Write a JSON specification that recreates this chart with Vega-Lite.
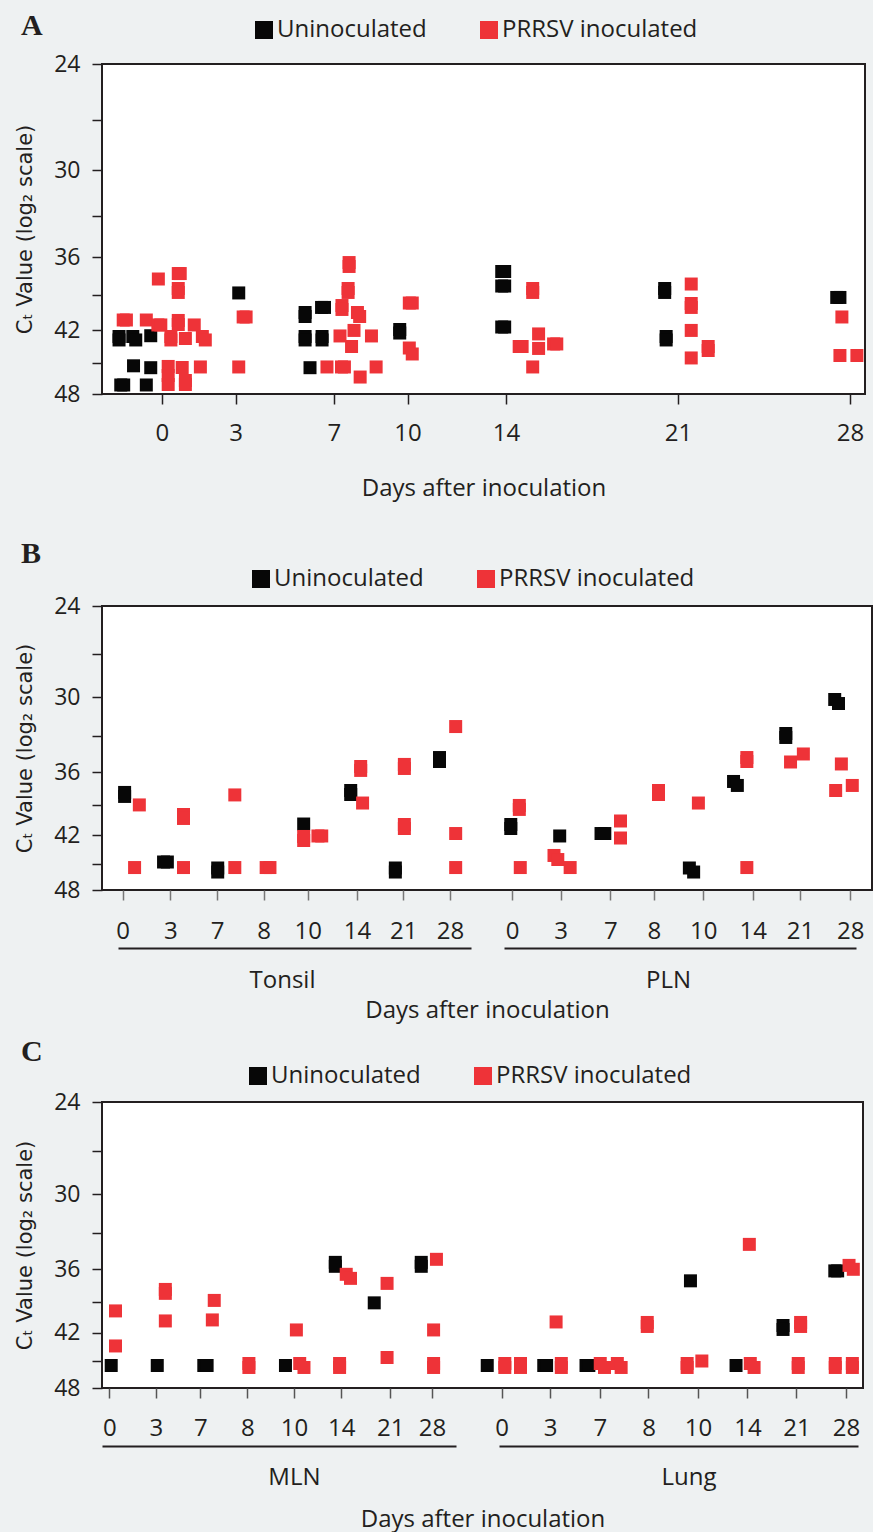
{
  "$schema": "https://vega.github.io/schema/vega-lite/v6.json",
  "background": "#eef1f2",
  "padding": {"left": 13, "top": 10, "right": 30, "bottom": 30},
  "datasets": {
    "A": [
      {"day":0,"group":"Uninoculated","x":-1.74,"ct":42.54},
      {"day":0,"group":"Uninoculated","x":-1.74,"ct":42.85},
      {"day":0,"group":"Uninoculated","x":-1.18,"ct":42.54},
      {"day":0,"group":"Uninoculated","x":-1.06,"ct":42.85},
      {"day":0,"group":"Uninoculated","x":-0.45,"ct":42.47},
      {"day":0,"group":"Uninoculated","x":-1.15,"ct":45.24},
      {"day":0,"group":"Uninoculated","x":-0.45,"ct":45.42},
      {"day":0,"group":"Uninoculated","x":-1.67,"ct":47.1},
      {"day":0,"group":"Uninoculated","x":-1.55,"ct":47.1},
      {"day":0,"group":"Uninoculated","x":-0.63,"ct":47.1},
      {"day":3,"group":"Uninoculated","x":3.13,"ct":38.82},
      {"day":7,"group":"Uninoculated","x":5.83,"ct":40.45},
      {"day":7,"group":"Uninoculated","x":5.83,"ct":40.79},
      {"day":7,"group":"Uninoculated","x":6.5,"ct":40.02},
      {"day":7,"group":"Uninoculated","x":6.62,"ct":40.02},
      {"day":7,"group":"Uninoculated","x":5.83,"ct":42.54},
      {"day":7,"group":"Uninoculated","x":5.83,"ct":42.85},
      {"day":7,"group":"Uninoculated","x":6.52,"ct":42.54},
      {"day":7,"group":"Uninoculated","x":6.52,"ct":42.85},
      {"day":7,"group":"Uninoculated","x":6.03,"ct":45.42},
      {"day":10,"group":"Uninoculated","x":9.68,"ct":41.92},
      {"day":10,"group":"Uninoculated","x":9.68,"ct":42.23},
      {"day":14,"group":"Uninoculated","x":13.83,"ct":37.11},
      {"day":14,"group":"Uninoculated","x":13.95,"ct":37.11},
      {"day":14,"group":"Uninoculated","x":13.83,"ct":38.26},
      {"day":14,"group":"Uninoculated","x":13.95,"ct":38.26},
      {"day":14,"group":"Uninoculated","x":13.83,"ct":41.7},
      {"day":14,"group":"Uninoculated","x":13.95,"ct":41.7},
      {"day":21,"group":"Uninoculated","x":20.46,"ct":38.46},
      {"day":21,"group":"Uninoculated","x":20.46,"ct":38.78},
      {"day":21,"group":"Uninoculated","x":20.52,"ct":42.54},
      {"day":21,"group":"Uninoculated","x":20.52,"ct":42.85},
      {"day":28,"group":"Uninoculated","x":27.46,"ct":39.19},
      {"day":28,"group":"Uninoculated","x":27.59,"ct":39.19},
      {"day":0,"group":"PRRSV inoculated","x":-0.14,"ct":37.7},
      {"day":0,"group":"PRRSV inoculated","x":0.67,"ct":37.27},
      {"day":0,"group":"PRRSV inoculated","x":0.75,"ct":37.27},
      {"day":0,"group":"PRRSV inoculated","x":0.67,"ct":38.46},
      {"day":0,"group":"PRRSV inoculated","x":0.67,"ct":38.78},
      {"day":0,"group":"PRRSV inoculated","x":-1.57,"ct":41.09},
      {"day":0,"group":"PRRSV inoculated","x":-1.44,"ct":41.09},
      {"day":0,"group":"PRRSV inoculated","x":-0.63,"ct":41.09},
      {"day":0,"group":"PRRSV inoculated","x":-0.16,"ct":41.52},
      {"day":0,"group":"PRRSV inoculated","x":-0.04,"ct":41.52},
      {"day":0,"group":"PRRSV inoculated","x":0.67,"ct":41.13},
      {"day":0,"group":"PRRSV inoculated","x":0.67,"ct":41.48},
      {"day":0,"group":"PRRSV inoculated","x":1.32,"ct":41.52},
      {"day":0,"group":"PRRSV inoculated","x":0.37,"ct":42.54},
      {"day":0,"group":"PRRSV inoculated","x":0.37,"ct":42.85},
      {"day":0,"group":"PRRSV inoculated","x":0.96,"ct":42.72},
      {"day":0,"group":"PRRSV inoculated","x":1.65,"ct":42.54},
      {"day":0,"group":"PRRSV inoculated","x":1.77,"ct":42.85},
      {"day":0,"group":"PRRSV inoculated","x":0.26,"ct":45.3},
      {"day":0,"group":"PRRSV inoculated","x":0.26,"ct":46.17},
      {"day":0,"group":"PRRSV inoculated","x":0.26,"ct":47.05},
      {"day":0,"group":"PRRSV inoculated","x":0.83,"ct":45.4},
      {"day":0,"group":"PRRSV inoculated","x":0.96,"ct":46.66},
      {"day":0,"group":"PRRSV inoculated","x":0.96,"ct":47.05},
      {"day":0,"group":"PRRSV inoculated","x":1.57,"ct":45.35},
      {"day":3,"group":"PRRSV inoculated","x":3.13,"ct":45.35},
      {"day":3,"group":"PRRSV inoculated","x":3.31,"ct":40.83},
      {"day":3,"group":"PRRSV inoculated","x":3.43,"ct":40.83},
      {"day":7,"group":"PRRSV inoculated","x":7.62,"ct":36.42},
      {"day":7,"group":"PRRSV inoculated","x":7.62,"ct":36.72},
      {"day":7,"group":"PRRSV inoculated","x":7.58,"ct":38.46},
      {"day":7,"group":"PRRSV inoculated","x":7.58,"ct":38.78},
      {"day":7,"group":"PRRSV inoculated","x":7.33,"ct":39.86},
      {"day":7,"group":"PRRSV inoculated","x":7.33,"ct":40.19},
      {"day":7,"group":"PRRSV inoculated","x":7.96,"ct":40.45},
      {"day":7,"group":"PRRSV inoculated","x":8.05,"ct":40.79},
      {"day":7,"group":"PRRSV inoculated","x":7.82,"ct":42.0},
      {"day":7,"group":"PRRSV inoculated","x":7.25,"ct":42.49},
      {"day":7,"group":"PRRSV inoculated","x":8.53,"ct":42.49},
      {"day":7,"group":"PRRSV inoculated","x":7.72,"ct":43.44},
      {"day":7,"group":"PRRSV inoculated","x":6.72,"ct":45.35},
      {"day":7,"group":"PRRSV inoculated","x":7.31,"ct":45.35},
      {"day":7,"group":"PRRSV inoculated","x":7.43,"ct":45.35},
      {"day":7,"group":"PRRSV inoculated","x":8.72,"ct":45.35},
      {"day":7,"group":"PRRSV inoculated","x":8.07,"ct":46.32},
      {"day":10,"group":"PRRSV inoculated","x":10.07,"ct":39.65},
      {"day":10,"group":"PRRSV inoculated","x":10.19,"ct":39.65},
      {"day":10,"group":"PRRSV inoculated","x":10.07,"ct":43.58},
      {"day":10,"group":"PRRSV inoculated","x":10.19,"ct":44.13},
      {"day":14,"group":"PRRSV inoculated","x":15.09,"ct":38.46},
      {"day":14,"group":"PRRSV inoculated","x":15.09,"ct":38.78},
      {"day":14,"group":"PRRSV inoculated","x":15.33,"ct":42.31},
      {"day":14,"group":"PRRSV inoculated","x":14.54,"ct":43.44},
      {"day":14,"group":"PRRSV inoculated","x":14.66,"ct":43.44},
      {"day":14,"group":"PRRSV inoculated","x":15.33,"ct":43.62},
      {"day":14,"group":"PRRSV inoculated","x":15.94,"ct":43.21},
      {"day":14,"group":"PRRSV inoculated","x":16.07,"ct":43.21},
      {"day":14,"group":"PRRSV inoculated","x":15.09,"ct":45.35},
      {"day":21,"group":"PRRSV inoculated","x":21.54,"ct":38.1},
      {"day":21,"group":"PRRSV inoculated","x":21.54,"ct":39.69},
      {"day":21,"group":"PRRSV inoculated","x":21.54,"ct":40.02},
      {"day":21,"group":"PRRSV inoculated","x":21.54,"ct":42.0},
      {"day":21,"group":"PRRSV inoculated","x":22.23,"ct":43.44},
      {"day":21,"group":"PRRSV inoculated","x":22.23,"ct":43.81},
      {"day":21,"group":"PRRSV inoculated","x":21.54,"ct":44.5},
      {"day":28,"group":"PRRSV inoculated","x":27.67,"ct":40.83},
      {"day":28,"group":"PRRSV inoculated","x":27.59,"ct":44.27},
      {"day":28,"group":"PRRSV inoculated","x":28.28,"ct":44.27}
    ],
    "B": [
      {"tissue":"Tonsil","day":0,"group":"Uninoculated","x":0.04,"ct":37.83},
      {"tissue":"Tonsil","day":0,"group":"Uninoculated","x":0.04,"ct":38.2},
      {"tissue":"Tonsil","day":3,"group":"Uninoculated","x":0.86,"ct":44.83},
      {"tissue":"Tonsil","day":3,"group":"Uninoculated","x":0.94,"ct":44.83},
      {"tissue":"Tonsil","day":7,"group":"Uninoculated","x":2.0,"ct":45.49},
      {"tissue":"Tonsil","day":7,"group":"Uninoculated","x":2.0,"ct":45.94},
      {"tissue":"Tonsil","day":10,"group":"Uninoculated","x":3.81,"ct":40.86},
      {"tissue":"Tonsil","day":14,"group":"Uninoculated","x":4.8,"ct":37.65},
      {"tissue":"Tonsil","day":14,"group":"Uninoculated","x":4.8,"ct":38.02},
      {"tissue":"Tonsil","day":21,"group":"Uninoculated","x":5.74,"ct":45.49},
      {"tissue":"Tonsil","day":21,"group":"Uninoculated","x":5.74,"ct":45.94},
      {"tissue":"Tonsil","day":28,"group":"Uninoculated","x":6.67,"ct":34.74},
      {"tissue":"Tonsil","day":28,"group":"Uninoculated","x":6.67,"ct":35.08},
      {"tissue":"PLN","day":0,"group":"Uninoculated","x":8.17,"ct":40.91},
      {"tissue":"PLN","day":0,"group":"Uninoculated","x":8.17,"ct":41.31},
      {"tissue":"PLN","day":3,"group":"Uninoculated","x":9.2,"ct":42.07},
      {"tissue":"PLN","day":7,"group":"Uninoculated","x":10.07,"ct":41.82},
      {"tissue":"PLN","day":7,"group":"Uninoculated","x":10.15,"ct":41.82},
      {"tissue":"PLN","day":10,"group":"Uninoculated","x":11.93,"ct":45.49},
      {"tissue":"PLN","day":10,"group":"Uninoculated","x":12.02,"ct":45.94},
      {"tissue":"PLN","day":14,"group":"Uninoculated","x":12.86,"ct":36.83},
      {"tissue":"PLN","day":14,"group":"Uninoculated","x":12.94,"ct":37.19},
      {"tissue":"PLN","day":21,"group":"Uninoculated","x":13.96,"ct":32.76},
      {"tissue":"PLN","day":21,"group":"Uninoculated","x":13.96,"ct":33.08},
      {"tissue":"PLN","day":28,"group":"Uninoculated","x":14.99,"ct":30.15},
      {"tissue":"PLN","day":28,"group":"Uninoculated","x":15.07,"ct":30.45},
      {"tissue":"Tonsil","day":0,"group":"PRRSV inoculated","x":0.35,"ct":39.0},
      {"tissue":"Tonsil","day":0,"group":"PRRSV inoculated","x":0.25,"ct":45.44},
      {"tissue":"Tonsil","day":3,"group":"PRRSV inoculated","x":1.28,"ct":39.92},
      {"tissue":"Tonsil","day":3,"group":"PRRSV inoculated","x":1.28,"ct":40.31},
      {"tissue":"Tonsil","day":3,"group":"PRRSV inoculated","x":1.28,"ct":45.44},
      {"tissue":"Tonsil","day":7,"group":"PRRSV inoculated","x":2.36,"ct":38.06},
      {"tissue":"Tonsil","day":7,"group":"PRRSV inoculated","x":2.36,"ct":45.44},
      {"tissue":"Tonsil","day":8,"group":"PRRSV inoculated","x":3.02,"ct":45.44},
      {"tissue":"Tonsil","day":8,"group":"PRRSV inoculated","x":3.1,"ct":45.44},
      {"tissue":"Tonsil","day":10,"group":"PRRSV inoculated","x":3.81,"ct":42.12},
      {"tissue":"Tonsil","day":10,"group":"PRRSV inoculated","x":3.81,"ct":42.54},
      {"tissue":"Tonsil","day":10,"group":"PRRSV inoculated","x":4.11,"ct":42.07},
      {"tissue":"Tonsil","day":10,"group":"PRRSV inoculated","x":4.19,"ct":42.07},
      {"tissue":"Tonsil","day":14,"group":"PRRSV inoculated","x":5.01,"ct":35.51},
      {"tissue":"Tonsil","day":14,"group":"PRRSV inoculated","x":5.01,"ct":35.85},
      {"tissue":"Tonsil","day":14,"group":"PRRSV inoculated","x":5.05,"ct":38.82},
      {"tissue":"Tonsil","day":21,"group":"PRRSV inoculated","x":5.93,"ct":35.33},
      {"tissue":"Tonsil","day":21,"group":"PRRSV inoculated","x":5.93,"ct":35.68},
      {"tissue":"Tonsil","day":21,"group":"PRRSV inoculated","x":5.93,"ct":40.91},
      {"tissue":"Tonsil","day":21,"group":"PRRSV inoculated","x":5.93,"ct":41.31},
      {"tissue":"Tonsil","day":28,"group":"PRRSV inoculated","x":7.01,"ct":32.21},
      {"tissue":"Tonsil","day":28,"group":"PRRSV inoculated","x":7.01,"ct":41.82},
      {"tissue":"Tonsil","day":28,"group":"PRRSV inoculated","x":7.01,"ct":45.44},
      {"tissue":"PLN","day":0,"group":"PRRSV inoculated","x":8.35,"ct":39.05},
      {"tissue":"PLN","day":0,"group":"PRRSV inoculated","x":8.35,"ct":39.43},
      {"tissue":"PLN","day":0,"group":"PRRSV inoculated","x":8.37,"ct":45.44},
      {"tissue":"PLN","day":3,"group":"PRRSV inoculated","x":9.08,"ct":44.12},
      {"tissue":"PLN","day":3,"group":"PRRSV inoculated","x":9.16,"ct":44.56},
      {"tissue":"PLN","day":3,"group":"PRRSV inoculated","x":9.42,"ct":45.44},
      {"tissue":"PLN","day":7,"group":"PRRSV inoculated","x":10.48,"ct":40.56},
      {"tissue":"PLN","day":7,"group":"PRRSV inoculated","x":10.48,"ct":42.28},
      {"tissue":"PLN","day":8,"group":"PRRSV inoculated","x":11.28,"ct":37.65},
      {"tissue":"PLN","day":8,"group":"PRRSV inoculated","x":11.28,"ct":38.02},
      {"tissue":"PLN","day":10,"group":"PRRSV inoculated","x":12.12,"ct":38.82},
      {"tissue":"PLN","day":14,"group":"PRRSV inoculated","x":13.14,"ct":34.74},
      {"tissue":"PLN","day":14,"group":"PRRSV inoculated","x":13.14,"ct":35.08},
      {"tissue":"PLN","day":14,"group":"PRRSV inoculated","x":13.14,"ct":45.44},
      {"tissue":"PLN","day":21,"group":"PRRSV inoculated","x":14.06,"ct":35.12},
      {"tissue":"PLN","day":21,"group":"PRRSV inoculated","x":14.33,"ct":34.44},
      {"tissue":"PLN","day":28,"group":"PRRSV inoculated","x":15.13,"ct":35.29},
      {"tissue":"PLN","day":28,"group":"PRRSV inoculated","x":15.01,"ct":37.65},
      {"tissue":"PLN","day":28,"group":"PRRSV inoculated","x":15.36,"ct":37.19}
    ],
    "C": [
      {"tissue":"MLN","day":0,"group":"Uninoculated","x":0.04,"ct":45.45},
      {"tissue":"MLN","day":3,"group":"Uninoculated","x":1.01,"ct":45.45},
      {"tissue":"MLN","day":7,"group":"Uninoculated","x":1.99,"ct":45.45},
      {"tissue":"MLN","day":7,"group":"Uninoculated","x":2.06,"ct":45.45},
      {"tissue":"MLN","day":10,"group":"Uninoculated","x":3.71,"ct":45.45},
      {"tissue":"MLN","day":14,"group":"Uninoculated","x":4.76,"ct":35.4},
      {"tissue":"MLN","day":14,"group":"Uninoculated","x":4.76,"ct":35.74},
      {"tissue":"MLN","day":21,"group":"Uninoculated","x":5.58,"ct":39.05},
      {"tissue":"MLN","day":28,"group":"Uninoculated","x":6.57,"ct":35.4},
      {"tissue":"MLN","day":28,"group":"Uninoculated","x":6.57,"ct":35.74},
      {"tissue":"Lung","day":0,"group":"Uninoculated","x":7.96,"ct":45.45},
      {"tissue":"Lung","day":3,"group":"Uninoculated","x":9.15,"ct":45.45},
      {"tissue":"Lung","day":3,"group":"Uninoculated","x":9.21,"ct":45.45},
      {"tissue":"Lung","day":7,"group":"Uninoculated","x":10.04,"ct":45.45},
      {"tissue":"Lung","day":7,"group":"Uninoculated","x":10.1,"ct":45.45},
      {"tissue":"Lung","day":10,"group":"Uninoculated","x":12.24,"ct":37.02},
      {"tissue":"Lung","day":14,"group":"Uninoculated","x":13.2,"ct":45.45},
      {"tissue":"Lung","day":21,"group":"Uninoculated","x":14.19,"ct":41.25},
      {"tissue":"Lung","day":21,"group":"Uninoculated","x":14.19,"ct":41.65},
      {"tissue":"Lung","day":28,"group":"Uninoculated","x":15.28,"ct":36.14},
      {"tissue":"Lung","day":28,"group":"Uninoculated","x":15.34,"ct":36.14},
      {"tissue":"MLN","day":0,"group":"PRRSV inoculated","x":0.13,"ct":39.82},
      {"tissue":"MLN","day":0,"group":"PRRSV inoculated","x":0.13,"ct":43.35},
      {"tissue":"MLN","day":3,"group":"PRRSV inoculated","x":1.18,"ct":37.8},
      {"tissue":"MLN","day":3,"group":"PRRSV inoculated","x":1.18,"ct":38.16},
      {"tissue":"MLN","day":3,"group":"PRRSV inoculated","x":1.18,"ct":40.8},
      {"tissue":"MLN","day":7,"group":"PRRSV inoculated","x":2.21,"ct":38.82},
      {"tissue":"MLN","day":7,"group":"PRRSV inoculated","x":2.17,"ct":40.7},
      {"tissue":"MLN","day":8,"group":"PRRSV inoculated","x":2.94,"ct":45.23},
      {"tissue":"MLN","day":8,"group":"PRRSV inoculated","x":2.94,"ct":45.67},
      {"tissue":"MLN","day":10,"group":"PRRSV inoculated","x":3.94,"ct":41.7},
      {"tissue":"MLN","day":10,"group":"PRRSV inoculated","x":4.01,"ct":45.23},
      {"tissue":"MLN","day":10,"group":"PRRSV inoculated","x":4.1,"ct":45.67},
      {"tissue":"MLN","day":14,"group":"PRRSV inoculated","x":4.99,"ct":36.44},
      {"tissue":"MLN","day":14,"group":"PRRSV inoculated","x":5.08,"ct":36.8},
      {"tissue":"MLN","day":14,"group":"PRRSV inoculated","x":4.85,"ct":45.23},
      {"tissue":"MLN","day":14,"group":"PRRSV inoculated","x":4.85,"ct":45.67},
      {"tissue":"MLN","day":21,"group":"PRRSV inoculated","x":5.85,"ct":37.25},
      {"tissue":"MLN","day":21,"group":"PRRSV inoculated","x":5.85,"ct":44.58},
      {"tissue":"MLN","day":28,"group":"PRRSV inoculated","x":6.89,"ct":35.14},
      {"tissue":"MLN","day":28,"group":"PRRSV inoculated","x":6.83,"ct":41.7},
      {"tissue":"MLN","day":28,"group":"PRRSV inoculated","x":6.83,"ct":45.23},
      {"tissue":"MLN","day":28,"group":"PRRSV inoculated","x":6.83,"ct":45.67},
      {"tissue":"Lung","day":0,"group":"PRRSV inoculated","x":8.33,"ct":45.23},
      {"tissue":"Lung","day":0,"group":"PRRSV inoculated","x":8.33,"ct":45.67},
      {"tissue":"Lung","day":0,"group":"PRRSV inoculated","x":8.66,"ct":45.23},
      {"tissue":"Lung","day":0,"group":"PRRSV inoculated","x":8.66,"ct":45.67},
      {"tissue":"Lung","day":3,"group":"PRRSV inoculated","x":9.41,"ct":40.9},
      {"tissue":"Lung","day":3,"group":"PRRSV inoculated","x":9.52,"ct":45.23},
      {"tissue":"Lung","day":3,"group":"PRRSV inoculated","x":9.52,"ct":45.67},
      {"tissue":"Lung","day":7,"group":"PRRSV inoculated","x":10.34,"ct":45.23},
      {"tissue":"Lung","day":7,"group":"PRRSV inoculated","x":10.43,"ct":45.67},
      {"tissue":"Lung","day":7,"group":"PRRSV inoculated","x":10.7,"ct":45.23},
      {"tissue":"Lung","day":7,"group":"PRRSV inoculated","x":10.78,"ct":45.67},
      {"tissue":"Lung","day":8,"group":"PRRSV inoculated","x":11.33,"ct":40.95},
      {"tissue":"Lung","day":8,"group":"PRRSV inoculated","x":11.33,"ct":41.35},
      {"tissue":"Lung","day":10,"group":"PRRSV inoculated","x":12.17,"ct":45.23},
      {"tissue":"Lung","day":10,"group":"PRRSV inoculated","x":12.17,"ct":45.67},
      {"tissue":"Lung","day":10,"group":"PRRSV inoculated","x":12.48,"ct":44.96},
      {"tissue":"Lung","day":14,"group":"PRRSV inoculated","x":13.48,"ct":33.89},
      {"tissue":"Lung","day":14,"group":"PRRSV inoculated","x":13.5,"ct":45.23},
      {"tissue":"Lung","day":14,"group":"PRRSV inoculated","x":13.58,"ct":45.67},
      {"tissue":"Lung","day":21,"group":"PRRSV inoculated","x":14.56,"ct":40.95},
      {"tissue":"Lung","day":21,"group":"PRRSV inoculated","x":14.56,"ct":41.35},
      {"tissue":"Lung","day":21,"group":"PRRSV inoculated","x":14.51,"ct":45.23},
      {"tissue":"Lung","day":21,"group":"PRRSV inoculated","x":14.51,"ct":45.67},
      {"tissue":"Lung","day":28,"group":"PRRSV inoculated","x":15.29,"ct":45.23},
      {"tissue":"Lung","day":28,"group":"PRRSV inoculated","x":15.29,"ct":45.67},
      {"tissue":"Lung","day":28,"group":"PRRSV inoculated","x":15.65,"ct":45.23},
      {"tissue":"Lung","day":28,"group":"PRRSV inoculated","x":15.65,"ct":45.67},
      {"tissue":"Lung","day":28,"group":"PRRSV inoculated","x":15.58,"ct":35.66},
      {"tissue":"Lung","day":28,"group":"PRRSV inoculated","x":15.67,"ct":36.0}
    ]
  },
  "vconcat": [
    {
      "width": 763,
      "height": 330,
      "data": {"name": "A"},
      "title": {"text": "A", "dx": -81, "offset": -47, "baseline": "alphabetic"},
      "mark": {"type": "square", "size": 169, "opacity": 1, "strokeWidth": 0},
      "encoding": {
        "x": {"field": "x", "type": "quantitative", "scale": {"domain": [-2.433, 28.61], "nice": false, "zero": false},
          "axis": {"values": [0, 3, 7, 10, 14, 21, 28], "labelPadding": 17, "title": "Days after inoculation", "titlePadding": 31}},
        "y": {"field": "ct", "type": "quantitative", "scale": {"type": "log", "base": 2, "domain": [24, 48], "reverse": true, "nice": false, "zero": false},
          "axis": {"values": [24, 27, 30, 33, 36, 39, 42, 45, 48], "labelExpr": "indexof([24,30,36,42,48], datum.value) >= 0 ? '' + datum.value : ''", "title": "C\u209c Value (log\u2082 scale)", "titleFont": "DejaVu Sans", "titleFontSize": 21, "titlePadding": 18, "labelFontSize": 23, "labelPadding": 12}},
        "color": {"field": "group", "type": "nominal", "scale": {"domain": ["Uninoculated", "PRRSV inoculated"], "range": ["#070707", "#ee3338"]},
          "legend": {"orient": "none", "legendX": 150, "legendY": -46, "direction": "horizontal", "title": null, "symbolType": "square", "symbolSize": 324, "symbolStrokeWidth": 0, "symbolOpacity": 1, "labelFontSize": 24, "labelOffset": 1, "labelLimit": 400, "columnPadding": 50, "padding": 0}}
      }
    },
    {
      "width": 770,
      "height": 284,
      "data": {"name": "B"},
      "title": {"text": "B", "dx": -81, "offset": -26, "baseline": "alphabetic"},
      "layer": [
        {
          "mark": {"type": "square", "size": 169, "opacity": 1, "strokeWidth": 0},
          "encoding": {
            "x": {"field": "x", "type": "quantitative", "scale": {"domain": [-0.436, 15.775], "nice": false, "zero": false},
              "axis": {"values": [0, 1.002, 1.985, 2.968, 3.895, 4.933, 5.907, 6.891, 8.196, 9.221, 10.265, 11.185, 12.223, 13.263, 14.259, 15.318],
                "labelExpr": "['0','3','7','8','10','14','21','28'][indexof([0, 1.002, 1.985, 2.968, 3.895, 4.933, 5.907, 6.891, 8.196, 9.221, 10.265, 11.185, 12.223, 13.263, 14.259, 15.318], datum.value) % 8]",
                "labelPadding": 19, "tickColor": "#777777", "title": null}},
            "y": {"field": "ct", "type": "quantitative", "scale": {"type": "log", "base": 2, "domain": [24, 48], "reverse": true, "nice": false, "zero": false},
              "axis": {"values": [24, 27, 30, 33, 36, 39, 42, 45, 48], "labelExpr": "indexof([24,30,36,42,48], datum.value) >= 0 ? '' + datum.value : ''", "title": "C\u209c Value (log\u2082 scale)", "titleFont": "DejaVu Sans", "titleFontSize": 21, "titlePadding": 18, "labelFontSize": 23, "labelPadding": 12}},
            "color": {"field": "group", "type": "nominal", "scale": {"domain": ["Uninoculated", "PRRSV inoculated"], "range": ["#070707", "#ee3338"]},
              "legend": {"orient": "none", "legendX": 147, "legendY": -39, "direction": "horizontal", "title": null, "symbolType": "square", "symbolSize": 324, "symbolStrokeWidth": 0, "symbolOpacity": 1, "labelFontSize": 24, "labelOffset": 1, "labelLimit": 400, "columnPadding": 50, "padding": 0}}
          }
        },
        {
          "mark": {"type": "square", "opacity": 0},
          "encoding": {
            "x": {"field": "x", "type": "quantitative",
              "axis": {"orient": "bottom", "offset": 58, "values": [3.354, 11.48], "labelExpr": "datum.value < 8 ? 'Tonsil' : 'PLN'", "ticks": false, "tickSize": 0, "labelPadding": 20,
                "domain": true, "domainColor": "#231f20", "domainWidth": 2, "domainDash": [0, 16, 353, 33, 352, 100],
                "title": "Days after inoculation", "titlePadding": 6}}
          }
        }
      ],
      "resolve": {"axis": {"x": "independent"}}
    },
    {
      "width": 761,
      "height": 286,
      "data": {"name": "C"},
      "title": {"text": "C", "dx": -81, "offset": -27, "baseline": "alphabetic"},
      "layer": [
        {
          "mark": {"type": "square", "size": 169, "opacity": 1, "strokeWidth": 0},
          "encoding": {
            "x": {"field": "x", "type": "quantitative", "scale": {"domain": [-0.154, 15.874], "nice": false, "zero": false},
              "axis": {"values": [0, 0.983, 1.916, 2.905, 3.888, 4.884, 5.916, 6.794, 8.261, 9.284, 10.33, 11.356, 12.4, 13.44, 14.471, 15.516],
                "labelExpr": "['0','3','7','8','10','14','21','28'][indexof([0, 0.983, 1.916, 2.905, 3.888, 4.884, 5.916, 6.794, 8.261, 9.284, 10.33, 11.356, 12.4, 13.44, 14.471, 15.516], datum.value) % 8]",
                "labelPadding": 18, "tickColor": "#555555", "title": null}},
            "y": {"field": "ct", "type": "quantitative", "scale": {"type": "log", "base": 2, "domain": [24, 48], "reverse": true, "nice": false, "zero": false},
              "axis": {"values": [24, 27, 30, 33, 36, 39, 42, 45, 48], "labelExpr": "indexof([24,30,36,42,48], datum.value) >= 0 ? '' + datum.value : ''", "title": "C\u209c Value (log\u2082 scale)", "titleFont": "DejaVu Sans", "titleFontSize": 21, "titlePadding": 18, "labelFontSize": 23, "labelPadding": 12}},
            "color": {"field": "group", "type": "nominal", "scale": {"domain": ["Uninoculated", "PRRSV inoculated"], "range": ["#070707", "#ee3338"]},
              "legend": {"orient": "none", "legendX": 144, "legendY": -38, "direction": "horizontal", "title": null, "symbolType": "square", "symbolSize": 324, "symbolStrokeWidth": 0, "symbolOpacity": 1, "labelFontSize": 24, "labelOffset": 1, "labelLimit": 400, "columnPadding": 50, "padding": 0}}
          }
        },
        {
          "mark": {"type": "square", "opacity": 0},
          "encoding": {
            "x": {"field": "x", "type": "quantitative",
              "axis": {"orient": "bottom", "offset": 58, "values": [3.888, 12.2], "labelExpr": "datum.value < 8 ? 'MLN' : 'Lung'", "ticks": false, "tickSize": 0, "labelPadding": 19,
                "domain": true, "domainColor": "#231f20", "domainWidth": 2, "domainDash": [354, 43, 359, 50],
                "title": "Days after inoculation", "titlePadding": 18}}
          }
        }
      ],
      "resolve": {"axis": {"x": "independent"}}
    }
  ],
  "spacing": 212,
  "bounds": "flush",
  "resolve": {"scale": {"x": "independent", "y": "independent", "color": "independent"}, "legend": {"color": "independent"}},
  "config": {
    "font": "Open Sans",
    "view": {"stroke": "#231f20", "strokeWidth": 2, "fill": "white"},
    "axis": {"grid": false, "domain": false, "labelFont": "Open Sans", "labelFontSize": 24, "labelColor": "#231f20", "tickColor": "#231f20", "tickSize": 10, "tickWidth": 1.5, "titleFont": "Open Sans", "titleFontSize": 24, "titleFontWeight": "normal", "titleColor": "#231f20"},
    "legend": {"labelFont": "Open Sans", "labelColor": "#231f20"},
    "title": {"font": "Liberation Serif", "fontSize": 30, "fontWeight": "bold", "color": "#231f20", "anchor": "start", "frame": "group"}
  }
}
